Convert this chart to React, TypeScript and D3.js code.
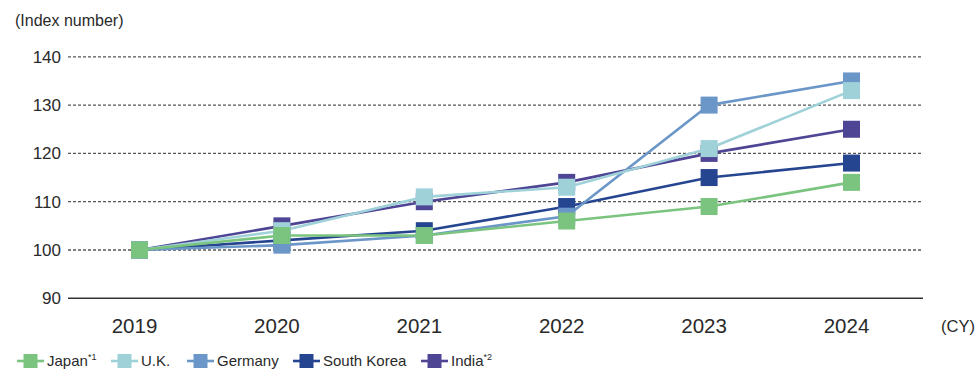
import React from "react";
import * as d3 from "d3";

const years = [2019, 2020, 2021, 2022, 2023, 2024];
const yTicks = [90, 100, 110, 120, 130, 140];

const japan = [100, 103, 103, 106, 109, 114];
const uk = [100, 104, 111, 113, 121, 133];
const germany = [100, 101, 103, 107, 130, 135];
const southKorea = [100, 102, 104, 109, 115, 118];
const india = [100, 105, 110, 114, 120, 125];

const seriesNames = ["Japan", "U.K.", "Germany", "South Korea", "India"];
const seriesNotes = ["*1", "", "", "", "*2"];
const seriesColors = ["#7bc47f", "#9fd1d9", "#6b96c8", "#264590", "#4e4595"];
const seriesValues = [japan, uk, germany, southKorea, india];

const W = 978;
const H = 369;
const FONT = "'Liberation Sans', Arial, Helvetica, sans-serif";

export default function App() {
  const x = d3.scaleLinear().domain([2019, 2024]).range([139.5, 851.5]);
  const y = d3.scaleLinear().domain([90, 140]).range([298.3, 56.8]);
  const gridLeft = 68;
  const gridRight = 923;
  const sq = 17;

  const line = d3
    .line<number>()
    .x((_, i) => x(years[i]))
    .y((v) => y(v));

  // draw order: later entries sit on top
  const drawOrder = [4, 3, 2, 1, 0];

  const legendX = [17, 111, 187, 293, 421];
  const legendY = 361;

  return (
    <div style={{ position: "fixed", left: 0, top: 0 }}>
      <svg width={W} height={H} style={{ display: "block", fontFamily: FONT }}>
        <rect width={W} height={H} fill="#ffffff" />
        <text x={15} y={26} fontSize={16} fill="#2a2a2a">
          (Index number)
        </text>

        {yTicks.map((t) => (
          <g key={t}>
            {t === 90 ? (
              <line x1={gridLeft} x2={gridRight} y1={y(t)} y2={y(t)} stroke="#333" strokeWidth={1.6} />
            ) : (
              <line
                x1={gridLeft}
                x2={gridRight}
                y1={y(t)}
                y2={y(t)}
                stroke="#555"
                strokeWidth={1.3}
                strokeDasharray="3,2"
              />
            )}
            <text x={61} y={y(t) + 6} fontSize={17} textAnchor="end" fill="#2a2a2a">
              {t}
            </text>
          </g>
        ))}

        {years.map((yr) => (
          <text key={yr} x={x(yr) - 5} y={333} fontSize={20.5} textAnchor="middle" fill="#2a2a2a">
            {yr}
          </text>
        ))}
        <text x={941} y={332} fontSize={16.5} fill="#2a2a2a">
          (CY)
        </text>

        {drawOrder.map((si) => (
          <g key={seriesNames[si]}>
            <path d={line(seriesValues[si]) || ""} fill="none" stroke={seriesColors[si]} strokeWidth={2.6} />
            {seriesValues[si].map((v, i) => (
              <rect
                key={i}
                x={x(years[i]) - sq / 2}
                y={y(v) - sq / 2}
                width={sq}
                height={sq}
                fill={seriesColors[si]}
              />
            ))}
          </g>
        ))}

        {seriesNames.map((name, i) => (
          <g key={name} transform={`translate(${legendX[i]},${legendY})`}>
            <line x1={0} x2={27} y1={0} y2={0} stroke={seriesColors[i]} strokeWidth={2.6} />
            <rect x={6.5} y={-7} width={14} height={14} fill={seriesColors[i]} />
            <text x={30} y={4.5} fontSize={15} fill="#2a2a2a">
              {name}
              {seriesNotes[i] && (
                <tspan fontSize={9} dy={-6}>
                  {seriesNotes[i]}
                </tspan>
              )}
            </text>
          </g>
        ))}
      </svg>
    </div>
  );
}
